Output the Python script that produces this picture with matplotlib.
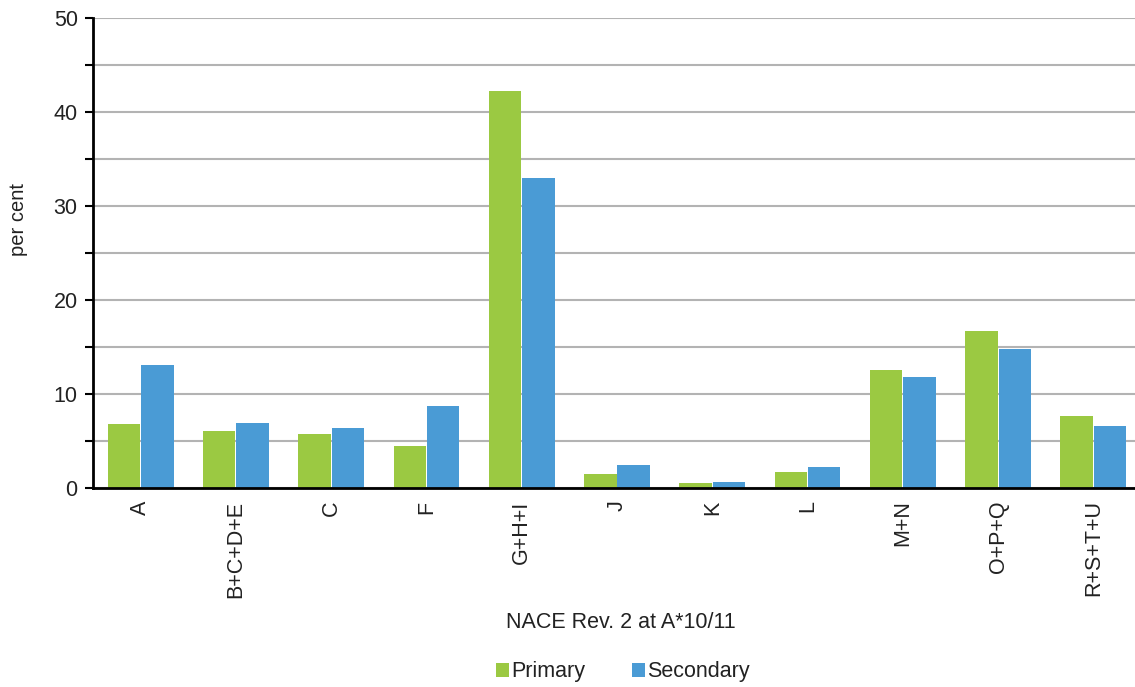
import matplotlib.pyplot as plt
import numpy as np
from matplotlib.ticker import MultipleLocator

plt.rcParams['font.family'] = ['Liberation Sans', 'DejaVu Sans']

categories = ['A', 'B+C+D+E', 'C', 'F', 'G+H+I', 'J', 'K', 'L', 'M+N', 'O+P+Q', 'R+S+T+U']
primary = [6.8, 6.1, 5.7, 4.5, 42.2, 1.5, 0.5, 1.7, 12.6, 16.7, 7.7]
secondary = [13.1, 6.9, 6.4, 8.7, 33.0, 2.5, 0.6, 2.2, 11.8, 14.8, 6.6]

green = '#9bc942'
blue = '#4a9bd5'

fig = plt.figure(figsize=(11.35, 6.87), dpi=100)
ax = fig.add_axes([93 / 1135, (687 - 488) / 687, (1141 - 93) / 1135, (488 - 18) / 687])

x = np.arange(len(categories))
w = 0.34
ax.bar(x - 0.175, primary, w, color=green, label='Primary', zorder=3)
ax.bar(x + 0.175, secondary, w, color=blue, label='Secondary', zorder=3)

ax.set_xlim(-0.5, len(categories) - 0.5)
ax.set_ylim(0, 50)
ax.yaxis.set_major_locator(MultipleLocator(10))
ax.yaxis.set_minor_locator(MultipleLocator(5))
ax.grid(axis='y', which='both', color='#b3b3b3', linewidth=1.5, zorder=0)

ax.set_xticks(x)
ax.set_xticklabels(categories, rotation=90, fontsize=15.5, color='#222222')
ax.tick_params(axis='x', length=0, pad=9)
ax.tick_params(axis='y', which='major', length=6, width=1.5, pad=5,
               labelsize=15.5, labelcolor='#222222')
ax.tick_params(axis='y', which='minor', length=6, width=1.5)

for s in ['top', 'right']:
    ax.spines[s].set_visible(False)
ax.spines['left'].set_linewidth(2)
ax.spines['bottom'].set_linewidth(2)
ax.spines['bottom'].set_zorder(4)

fig.text(19 / 1135, 1 - 220 / 687, 'per cent', rotation=90, ha='center', va='center',
         fontsize=14.5, color='#222222')
fig.text(621 / 1135, 1 - 622 / 687, 'NACE Rev. 2 at A*10/11', ha='center', va='center',
         fontsize=15.5, color='#222222')

fig.legend(loc='center', bbox_to_anchor=(623 / 1135, 1 - 672 / 687), ncol=2, frameon=False,
           fontsize=15.5, handlelength=0.6, handleheight=0.6, handletextpad=0.1,
           columnspacing=2.2, labelcolor='#222222')

fig.savefig('out.png', dpi=100)
